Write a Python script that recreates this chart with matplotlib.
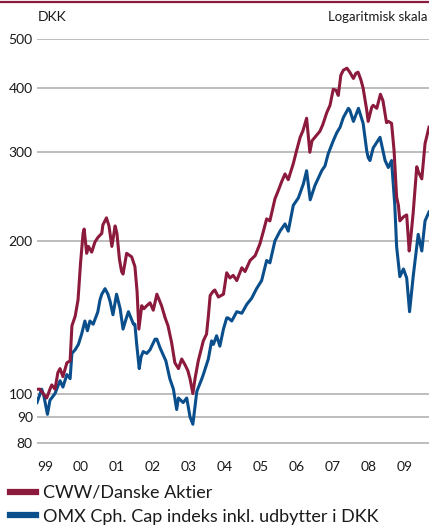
import matplotlib
matplotlib.use("Agg")
import matplotlib.pyplot as plt
from matplotlib.lines import Line2D
from matplotlib.ticker import FixedLocator, NullLocator

plt.rcParams["font.family"] = ["Lato", "DejaVu Sans"]

# Indexed value (DKK, start 1999 = 100), decimal year dates
cww_dates = [1999.03, 1999.08, 1999.17, 1999.27, 1999.36, 1999.41, 1999.50, 1999.58, 1999.64, 1999.72,
             1999.83, 1999.92, 1999.97, 2000.06, 2000.14, 2000.21, 2000.28, 2000.31, 2000.38, 2000.43,
             2000.52, 2000.61, 2000.69, 2000.80, 2000.83, 2000.93, 2001.00, 2001.08, 2001.17, 2001.22,
             2001.29, 2001.35, 2001.39, 2001.49, 2001.63, 2001.72, 2001.78, 2001.83, 2001.91, 2001.97,
             2002.05, 2002.14, 2002.23, 2002.33, 2002.46, 2002.56, 2002.64, 2002.74, 2002.83, 2002.93,
             2003.02, 2003.11, 2003.19, 2003.25, 2003.33, 2003.39, 2003.48, 2003.62, 2003.71, 2003.76,
             2003.81, 2003.89, 2003.94, 2004.04, 2004.18, 2004.27, 2004.36, 2004.45, 2004.55, 2004.69,
             2004.78, 2004.92, 2005.06, 2005.19, 2005.29, 2005.38, 2005.47, 2005.61, 2005.70, 2005.80,
             2005.89, 2005.98, 2006.12, 2006.21, 2006.31, 2006.39, 2006.49, 2006.58, 2006.64, 2006.72,
             2006.86, 2006.94, 2007.05, 2007.14, 2007.23, 2007.31, 2007.37, 2007.44, 2007.51, 2007.61,
             2007.69, 2007.79, 2007.86, 2007.92, 2008.00, 2008.06, 2008.16, 2008.20, 2008.30, 2008.34,
             2008.44, 2008.54, 2008.61, 2008.71, 2008.76, 2008.85, 2008.92, 2008.99, 2009.04, 2009.08,
             2009.18, 2009.27, 2009.34, 2009.39, 2009.45, 2009.55, 2009.60, 2009.69, 2009.78, 2009.89]
cww_values = [102, 102, 100, 98, 102, 104, 102, 110, 112, 108,
              115, 116, 136, 142, 153, 181, 207, 211, 189, 195,
              190, 199, 203, 207, 215, 222, 214, 195, 214, 207,
              184, 174, 172, 189, 186, 178, 159, 134, 149, 147,
              149, 151, 146, 157, 149, 141, 136, 126, 115, 112,
              117, 114, 111, 107, 100, 107, 116, 127, 131, 142,
              156, 159, 160, 155, 157, 173, 169, 171, 167, 177,
              174, 183, 187, 197, 209, 221, 219, 242, 251, 262,
              271, 264, 284, 301, 320, 330, 349, 299, 315, 320,
              329, 339, 358, 370, 398, 396, 387, 424, 434, 438,
              430, 418, 428, 430, 415, 400, 362, 344, 367, 370,
              365, 389, 378, 342, 344, 341, 301, 244, 235, 219,
              223, 225, 191, 205, 227, 280, 273, 265, 311, 335]

omx_dates = [1999.00, 1999.13, 1999.19, 1999.29, 1999.36, 1999.50, 1999.64, 1999.72, 1999.83, 1999.92,
             1999.97, 2000.06, 2000.15, 2000.24, 2000.33, 2000.40, 2000.47, 2000.56, 2000.66, 2000.69,
             2000.75, 2000.80, 2000.89, 2000.97, 2001.03, 2001.11, 2001.21, 2001.31, 2001.39, 2001.47,
             2001.54, 2001.68, 2001.72, 2001.77, 2001.84, 2001.89, 2001.95, 2002.05, 2002.14, 2002.28,
             2002.33, 2002.42, 2002.51, 2002.58, 2002.69, 2002.79, 2002.88, 2002.93, 2003.06, 2003.16,
             2003.25, 2003.33, 2003.44, 2003.58, 2003.62, 2003.76, 2003.85, 2003.90, 2003.99, 2004.08,
             2004.18, 2004.27, 2004.31, 2004.41, 2004.55, 2004.69, 2004.83, 2004.96, 2005.10, 2005.24,
             2005.38, 2005.47, 2005.61, 2005.75, 2005.89, 2005.98, 2006.12, 2006.26, 2006.40, 2006.49,
             2006.59, 2006.72, 2006.91, 2007.00, 2007.09, 2007.23, 2007.33, 2007.42, 2007.51, 2007.65,
             2007.69, 2007.79, 2007.93, 2008.06, 2008.16, 2008.20, 2008.25, 2008.34, 2008.53, 2008.67,
             2008.76, 2008.85, 2008.94, 2008.99, 2009.08, 2009.18, 2009.27, 2009.35, 2009.45, 2009.59,
             2009.69, 2009.78, 2009.89]
omx_values = [96, 102, 99, 91, 97, 100, 106, 103, 109, 107,
              120, 122, 125, 131, 139, 133, 139, 137, 143, 145,
              153, 157, 161, 157, 152, 143, 157, 147, 134, 140,
              145, 137, 137, 125, 112, 118, 121, 120, 122, 128,
              128, 123, 119, 116, 107, 102, 93, 98, 96, 98,
              90, 87, 101, 107, 109, 117, 127, 125, 130, 124,
              134, 141, 141, 139, 145, 144, 150, 154, 161, 167,
              183, 181, 200, 209, 216, 209, 235, 243, 259, 275,
              241, 257, 275, 281, 297, 315, 327, 335, 350, 365,
              362, 344, 365, 341, 301, 292, 288, 305, 320, 288,
              279, 288, 235, 195, 170, 176, 169, 145, 170, 206,
              191, 219, 228]

years = list(range(1999, 2010))
year_labels = ["99", "00", "01", "02", "03", "04", "05", "06", "07", "08", "09"]
y_ticks = [80, 90, 100, 200, 300, 400, 500]

RED = "#8b1a3c"
BLUE = "#0a4f8c"
GRID = "#bdbdbd"
TEXT = "#1a1a1a"

fig = plt.figure(figsize=(4.29, 5.25), dpi=100)
ax = fig.add_axes([37 / 429, 1 - 450 / 525, 392 / 429, 411 / 525])

ax.plot(omx_dates, omx_values, color=BLUE, lw=2.2, solid_joinstyle="round", zorder=3)
ax.plot(cww_dates, cww_values, color=RED, lw=2.2, solid_joinstyle="round", zorder=4)

ax.set_yscale("log")
ax.set_ylim(77.4, 500)
ax.set_xlim(1999.0, 2009.89)
ax.yaxis.set_major_locator(FixedLocator(y_ticks))
ax.yaxis.set_minor_locator(NullLocator())
ax.set_yticklabels([str(v) for v in y_ticks])
ax.xaxis.set_major_locator(FixedLocator(years))
ax.xaxis.set_minor_locator(NullLocator())
ax.set_xticklabels(year_labels, ha="left")

ax.tick_params(axis="both", length=0, labelsize=10, colors=TEXT)
ax.tick_params(axis="x", pad=8)
ax.tick_params(axis="y", pad=3)
for s in ax.spines.values():
    s.set_visible(False)
ax.grid(axis="y", color=GRID, lw=1.4, zorder=1)
ax.set_axisbelow(True)

# rule across the top of the figure
fig.add_artist(Line2D([0, 1], [1 - 2 / 525, 1 - 2 / 525], color=RED, lw=1.6,
                      transform=fig.transFigure))

fig.text(38 / 429, 1 - 17 / 525, "DKK", fontsize=10, color=TEXT, va="center", ha="left")
fig.text(427 / 429, 1 - 17 / 525, "Logaritmisk skala", fontsize=9.5, color=TEXT,
         va="center", ha="right")

handles = [Line2D([], [], color=RED, lw=4.5), Line2D([], [], color=BLUE, lw=4.5)]
labels = ["CWW/Danske Aktier", "OMX Cph. Cap indeks inkl. udbytter i DKK"]
fig.legend(handles, labels, loc="upper left", bbox_to_anchor=(10 / 429, 1 - 485 / 525),
           frameon=False, fontsize=13, handlelength=1.45, handletextpad=0.4,
           labelspacing=0.42, borderpad=0, borderaxespad=0, labelcolor=TEXT)

fig.savefig("out.png", dpi=100)
